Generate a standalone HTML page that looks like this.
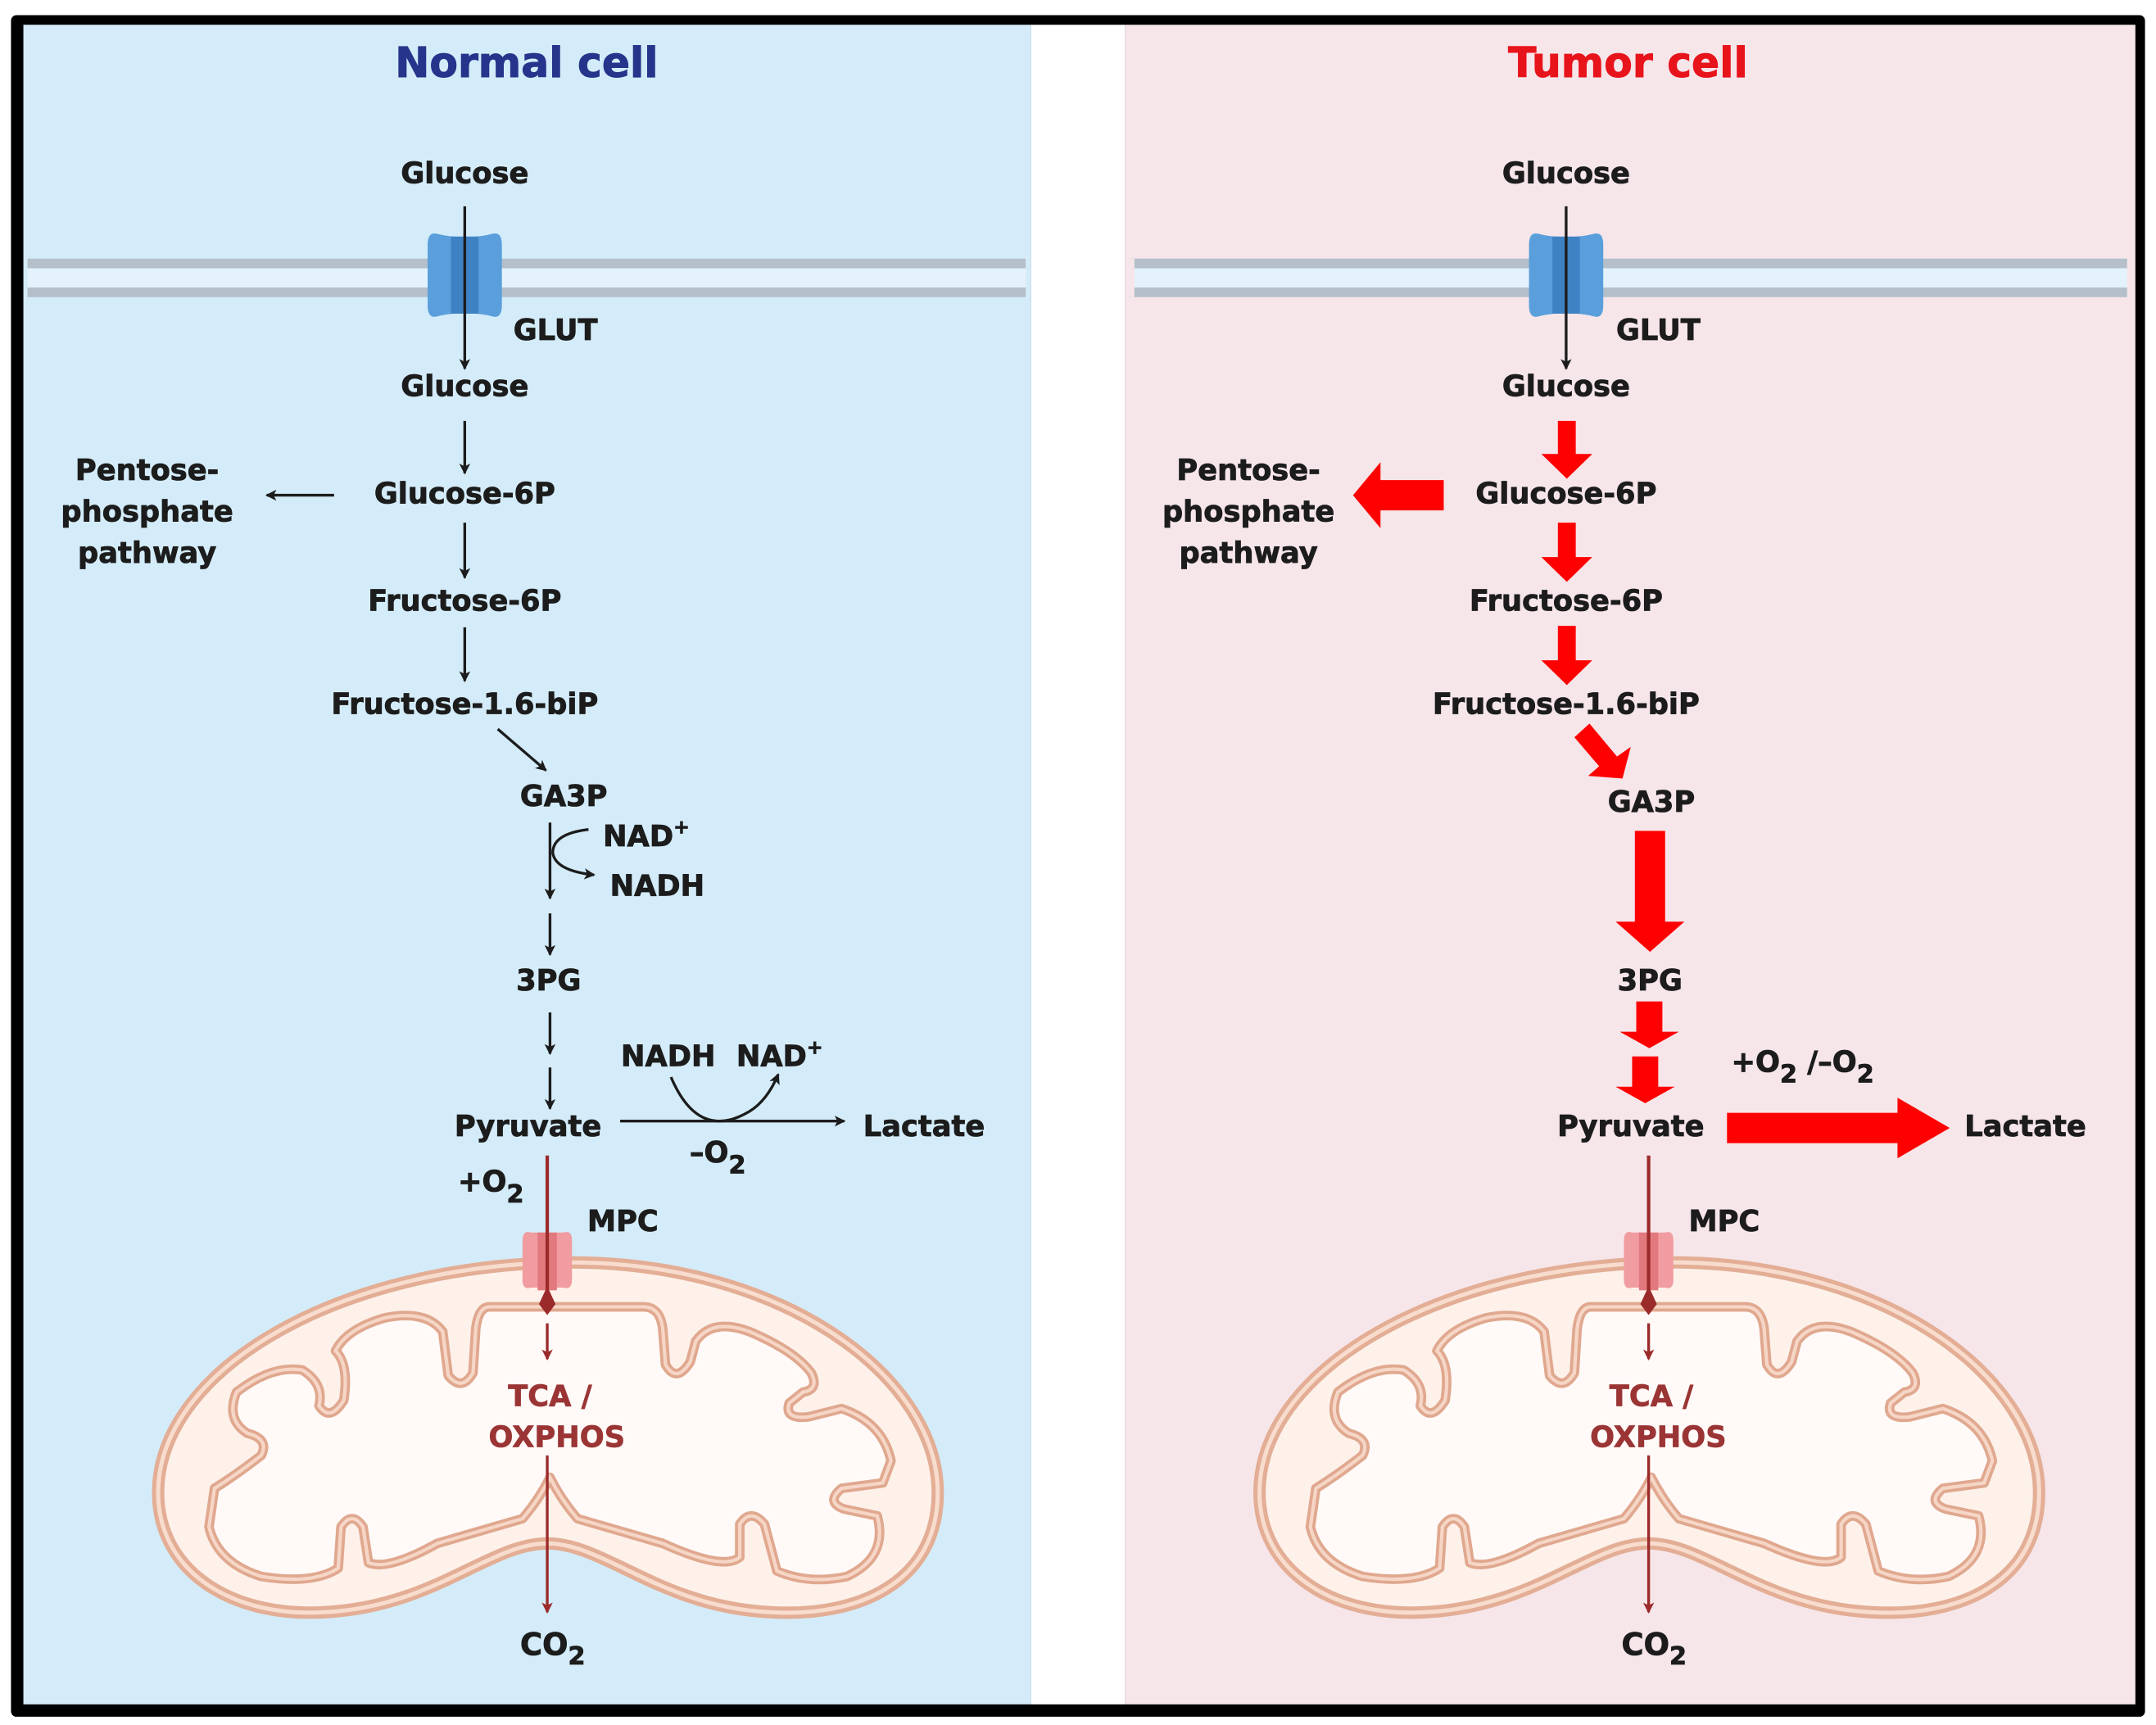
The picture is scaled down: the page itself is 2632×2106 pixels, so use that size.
<!DOCTYPE html>
<html><head><meta charset="utf-8"><style>
html,body{margin:0;padding:0;background:#fff}
svg{display:block}
text{font-family:"DejaVu Sans","Liberation Sans",sans-serif;font-weight:bold;fill:#1c1c1c;text-anchor:middle}
.l{font-size:21px;stroke:#1c1c1c;stroke-width:0.5}
.r{font-size:21px;stroke:#1c1c1c;stroke-width:0.5}
</style></head><body>
<svg width="2632" height="2106" viewBox="0 0 1568 1254" preserveAspectRatio="none" xmlns="http://www.w3.org/2000/svg">
<defs>
<marker id="ah" markerWidth="8" markerHeight="8" refX="7" refY="4" orient="auto" markerUnits="userSpaceOnUse"><path d="M0,0 L8,4 L0,8 L2,4 Z" fill="#1c1c1c"/></marker>
<marker id="ahr" markerWidth="8" markerHeight="8" refX="7" refY="4" orient="auto" markerUnits="userSpaceOnUse"><path d="M0,0 L8,4 L0,8 L2,4 Z" fill="#9b2a2a"/></marker>
<g id="memb">
<rect x="20" y="188" width="726" height="28" fill="#e4f2fc"/>
<rect x="20" y="188" width="726" height="7" fill="#b4bfca"/>
<rect x="20" y="209" width="726" height="7" fill="#b4bfca"/>
<path d="M318,170 Q311,168 311,178 L311,222 Q311,232 318,230 Q326,228 332,228 L344,228 Q350,228 358,230 Q365,232 365,222 L365,178 Q365,168 358,170 Q350,172 344,172 L332,172 Q326,172 318,170Z" fill="#5a9fdc"/>
<rect x="328" y="172" width="20" height="56" fill="#3f82c4"/>
</g>
<g id="mito">
<path d="M398,918 C565,912 682,1000 682,1085 C682,1150 625,1176 560,1172 C480,1168 440,1122 398,1122 C356,1122 316,1168 236,1172 C168,1176 115,1142 115,1085 C115,1000 235,924 398,918 Z" fill="#fdf1ea" stroke="#e3ae95" stroke-width="9"/>
<path d="M398,918 C565,912 682,1000 682,1085 C682,1150 625,1176 560,1172 C480,1168 440,1122 398,1122 C356,1122 316,1168 236,1172 C168,1176 115,1142 115,1085 C115,1000 235,924 398,918 Z" fill="none" stroke="#f8dccd" stroke-width="3"/>
<path d="M356,950 L468,950 Q480,950 482,966 L484,992 Q492,1006 502,990 L506,975 Q518,958 545,968 Q578,982 590,998 Q596,1010 584,1012 L574,1020 Q570,1032 588,1030 L612,1024 Q642,1034 648,1062 L642,1078 L612,1082 Q600,1092 614,1097 L638,1102 Q646,1132 616,1146 Q588,1152 565,1142 L556,1108 Q546,1096 538,1108 L538,1132 Q526,1142 482,1122 L420,1104 Q408,1090 400,1074 Q392,1090 380,1104 L318,1122 Q282,1142 268,1136 L264,1110 Q256,1098 248,1110 L246,1140 Q228,1152 190,1146 Q158,1136 152,1110 L156,1082 Q172,1072 190,1058 Q196,1046 180,1042 Q164,1032 172,1012 Q198,992 220,996 Q236,1006 232,1022 Q240,1034 250,1018 Q254,992 244,982 Q252,966 280,958 Q310,952 322,968 L326,1000 Q336,1012 344,998 L346,966 Q348,950 356,950 Z" fill="#fffaf8" stroke="#e0a88f" stroke-width="7" stroke-linejoin="round"/>
<path d="M356,950 L468,950 Q480,950 482,966 L484,992 Q492,1006 502,990 L506,975 Q518,958 545,968 Q578,982 590,998 Q596,1010 584,1012 L574,1020 Q570,1032 588,1030 L612,1024 Q642,1034 648,1062 L642,1078 L612,1082 Q600,1092 614,1097 L638,1102 Q646,1132 616,1146 Q588,1152 565,1142 L556,1108 Q546,1096 538,1108 L538,1132 Q526,1142 482,1122 L420,1104 Q408,1090 400,1074 Q392,1090 380,1104 L318,1122 Q282,1142 268,1136 L264,1110 Q256,1098 248,1110 L246,1140 Q228,1152 190,1146 Q158,1136 152,1110 L156,1082 Q172,1072 190,1058 Q196,1046 180,1042 Q164,1032 172,1012 Q198,992 220,996 Q236,1006 232,1022 Q240,1034 250,1018 Q254,992 244,982 Q252,966 280,958 Q310,952 322,968 L326,1000 Q336,1012 344,998 L346,966 Q348,950 356,950 Z" fill="none" stroke="#f6d6c6" stroke-width="2.5"/>
<path d="M386,896 Q380,894 380,902 L380,930 Q380,938 386,936 L410,936 Q416,938 416,930 L416,902 Q416,894 410,896 Z" fill="#f19ca0"/>
<rect x="391" y="896" width="14" height="42" fill="#e2797e"/>
<line x1="398" y1="840" x2="398" y2="942" stroke="#9b2a2a" stroke-width="2.5"/>
<path d="M398,935 L404,948 L398,956 L392,948 Z" fill="#9b2a2a"/>
<line x1="398" y1="962" x2="398" y2="988" stroke="#9b2a2a" stroke-width="2" marker-end="url(#ahr)"/>
<line x1="398" y1="1058" x2="398" y2="1172" stroke="#9b2a2a" stroke-width="2" marker-end="url(#ahr)"/>
<text x="400" y="1022" style="font-size:21px;fill:#9b3434;stroke:#9b3434;stroke-width:0.4">TCA /</text>
<text x="405" y="1052" style="font-size:21px;fill:#9b3434;stroke:#9b3434;stroke-width:0.4">OXPHOS</text>
<text x="402" y="1203" style="font-size:22px;stroke:#1c1c1c;stroke-width:0.5">CO<tspan dy="7" font-size="18">2</tspan></text>
</g>
</defs>
<rect x="0" y="0" width="1568" height="1254" fill="#fff"/>
<rect x="8" y="11" width="1552" height="1237" rx="4" fill="#000"/>
<rect x="17" y="18" width="733" height="1221" fill="#d4ecf9"/>
<rect x="750" y="18" width="68" height="1221" fill="#fff"/>
<rect x="818" y="18" width="735" height="1221" fill="#f6e6ea"/>

<!-- LEFT -->
<text x="383" y="56" style="font-size:30px;fill:#27348b;stroke:#27348b;stroke-width:0.6">Normal cell</text>
<use href="#memb"/>
<line x1="338" y1="150" x2="338" y2="268" stroke="#1c1c1c" stroke-width="2" marker-end="url(#ah)"/>
<text class="l" x="338" y="133">Glucose</text>
<text class="l" x="404" y="247">GLUT</text>
<text class="l" x="338" y="288">Glucose</text>
<line x1="338" y1="306" x2="338" y2="344" stroke="#1c1c1c" stroke-width="2" marker-end="url(#ah)"/>
<text class="l" x="338" y="366">Glucose-6P</text>
<line x1="243" y1="360" x2="194" y2="360" stroke="#1c1c1c" stroke-width="2" marker-end="url(#ah)"/>
<text class="l" x="107" y="349">Pentose-</text>
<text class="l" x="107" y="379">phosphate</text>
<text class="l" x="107" y="409">pathway</text>
<line x1="338" y1="380" x2="338" y2="420" stroke="#1c1c1c" stroke-width="2" marker-end="url(#ah)"/>
<text class="l" x="338" y="444">Fructose-6P</text>
<line x1="338" y1="456" x2="338" y2="495" stroke="#1c1c1c" stroke-width="2" marker-end="url(#ah)"/>
<text class="l" x="338" y="519">Fructose-1.6-biP</text>
<line x1="362" y1="530" x2="397" y2="560" stroke="#1c1c1c" stroke-width="2" marker-end="url(#ah)"/>
<text class="l" x="410" y="586">GA3P</text>
<line x1="400" y1="598" x2="400" y2="653" stroke="#1c1c1c" stroke-width="2" marker-end="url(#ah)"/>
<path d="M428,603 Q402,606 402,620 Q404,633 432,636" fill="none" stroke="#1c1c1c" stroke-width="2" marker-end="url(#ah)"/>
<text class="l" x="470" y="615">NAD<tspan dy="-9" font-size="14">+</tspan></text>
<text class="l" x="478" y="651">NADH</text>
<line x1="400" y1="664" x2="400" y2="694" stroke="#1c1c1c" stroke-width="2" marker-end="url(#ah)"/>
<text class="l" x="399" y="720">3PG</text>
<line x1="400" y1="736" x2="400" y2="766" stroke="#1c1c1c" stroke-width="2" marker-end="url(#ah)"/>
<line x1="400" y1="776" x2="400" y2="806" stroke="#1c1c1c" stroke-width="2" marker-end="url(#ah)"/>
<text class="l" x="384" y="826">Pyruvate</text>
<line x1="451" y1="815" x2="614" y2="815" stroke="#1c1c1c" stroke-width="2" marker-end="url(#ah)"/>
<path d="M488,783 Q508,830 545,808 Q558,800 566,781" fill="none" stroke="#1c1c1c" stroke-width="2" marker-end="url(#ah)"/>
<text class="l" x="486" y="775">NADH</text>
<text class="l" x="567" y="775">NAD<tspan dy="-9" font-size="14">+</tspan></text>
<text class="l" x="672" y="826">Lactate</text>
<text class="l" x="522" y="845">–O<tspan dy="8" font-size="18">2</tspan></text>
<text class="l" x="357" y="866">+O<tspan dy="8" font-size="18">2</tspan></text>
<text class="l" x="453" y="895">MPC</text>
<use href="#mito"/>

<!-- RIGHT -->
<text x="1184" y="56" style="font-size:30px;fill:#e8141b;stroke:#e8141b;stroke-width:0.6">Tumor cell</text>
<use href="#memb" transform="translate(801,0)"/>
<rect x="821" y="188" width="4" height="28" fill="#f6e6ea"/>
<line x1="1139" y1="150" x2="1139" y2="268" stroke="#1c1c1c" stroke-width="2" marker-end="url(#ah)"/>
<text class="r" x="1139" y="133">Glucose</text>
<text class="r" x="1206" y="247">GLUT</text>
<text class="r" x="1139" y="288">Glucose</text>
<path d="M1133,306 h13 v24 h12 l-18.5,18 l-18.5,-18 h12 z" fill="#f00"/>
<text class="r" x="1139" y="366">Glucose-6P</text>
<path d="M1050,349 v22 h-46 v13 l-20,-24 l20,-24 v13 z" fill="#f00"/>
<text class="r" x="908" y="349">Pentose-</text>
<text class="r" x="908" y="379">phosphate</text>
<text class="r" x="908" y="409">pathway</text>
<path d="M1133,380 h13 v25 h12 l-18.5,18 l-18.5,-18 h12 z" fill="#f00"/>
<text class="r" x="1139" y="444">Fructose-6P</text>
<path d="M1133,455 h13 v25 h12 l-18.5,18 l-18.5,-18 h12 z" fill="#f00"/>
<text class="r" x="1139" y="519">Fructose-1.6-biP</text>
<path d="M1156,526 L1145,536 L1163,557 L1155,564 L1180,566 L1186,543 L1176,550 Z" fill="#f00"/>
<text class="r" x="1201" y="590">GA3P</text>
<path d="M1189,604 h22 v66 h14 l-25,22 l-25,-22 h14 z" fill="#f00"/>
<text class="r" x="1200" y="720">3PG</text>
<path d="M1190,728 h19 v22 h12 l-21.5,12 l-21.5,-12 h12 z" fill="#f00"/>
<path d="M1187,768 h19 v22 h12 l-21.5,12 l-21.5,-12 h12 z" fill="#f00"/>
<text class="r" x="1186" y="826">Pyruvate</text>
<path d="M1256,809 h124 v-11 l38,22 l-38,22 v-11 h-124 z" fill="#f00"/>
<text class="r" x="1473" y="826">Lactate</text>
<text class="r" x="1311" y="779">+O<tspan dy="8" font-size="18">2</tspan><tspan dy="-8"> /–O</tspan><tspan dy="8" font-size="18">2</tspan></text>
<text class="r" x="1254" y="895">MPC</text>
<use href="#mito" transform="translate(801,0)"/>
</svg>
</body></html>
